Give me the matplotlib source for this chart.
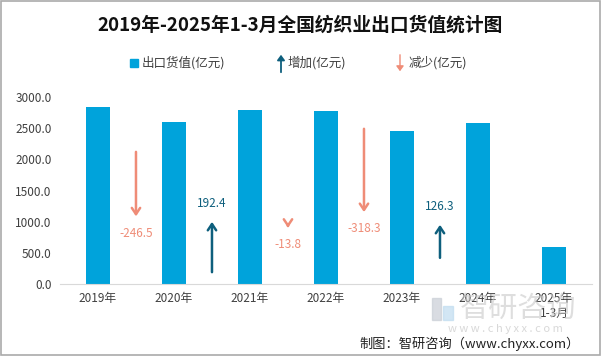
import numpy as np
import matplotlib
matplotlib.use('Agg')
import matplotlib.pyplot as plt
from matplotlib.patches import Rectangle, FancyArrowPatch

plt.rcParams['font.family'] = ['Noto Sans CJK SC', 'DejaVu Sans']

years = ['2019年', '2020年', '2021年', '2022年', '2023年', '2024年', '2025年\n1-3月']
export_value = [2840.0, 2593.5, 2785.9, 2772.1, 2453.8, 2580.1, 595.0]
change = [-246.5, 192.4, -13.8, -318.3, 126.3]
change_labels = ['-246.5', '192.4', '-13.8', '-318.3', '126.3']

# arrow tail heights (layout only)
arrow_tail = [2120, 190, 960, 2490, 420]
arrow_scale = 4.2

bar_color = '#00a3db'
up_color = '#0e5f7d'
down_color = '#ef8c77'
tick_color = '#404040'

fig = plt.figure(figsize=(6.01, 3.56), dpi=100)
ax = fig.add_axes([0.0998, 0.2022, 0.8852, 0.5253])
ax.patch.set_alpha(0)

x = np.arange(len(years))
ax.bar(x, export_value, width=0.32, color=bar_color, zorder=2)

for i, d in enumerate(change):
    xp = i + 0.5
    tail = arrow_tail[i]
    head = tail + d * arrow_scale
    c = up_color if d > 0 else down_color
    ax.annotate('', xy=(xp, head), xytext=(xp, tail),
                arrowprops=dict(arrowstyle='->,head_length=0.45,head_width=0.3',
                                color=c, lw=1.8, shrinkA=0, shrinkB=0))
    if d > 0:
        ty = head + 290
    else:
        ty = head - 270
    ax.text(xp, ty, change_labels[i], ha='center', va='center', fontsize=8.5, color=c)

ax.set_xlim(-0.5, 6.5)
ax.set_ylim(0, 3000)
ax.set_yticks(np.arange(0, 3001, 500))
ax.set_yticklabels(['%.1f' % v for v in np.arange(0, 3001, 500)])
ax.set_xticks(x)
ax.set_xticklabels(years)
ax.tick_params(axis='both', length=0, labelsize=8.5, colors=tick_color)
ax.tick_params(axis='x', pad=6)
ax.tick_params(axis='y', pad=6)
for s in ['top', 'right', 'left']:
    ax.spines[s].set_visible(False)
ax.spines['bottom'].set_color('#d9d9d9')

fig.text(0.499, 0.93, '2019年-2025年1-3月全国纺织业出口货值统计图', ha='center', va='center',
         fontsize=13.5, fontweight='bold', color='#111111')

# legend
ly = 1 - 63 / 356
fig.patches.append(Rectangle((130 / 601, ly - 4.5 / 356), 8 / 601, 8 / 356,
                             transform=fig.transFigure, color=bar_color))
fig.text(142 / 601, ly, '出口货值(亿元)', va='center', fontsize=9, color=tick_color)
fig.patches.append(FancyArrowPatch((281 / 601, ly - 12 / 356), (281 / 601, ly + 11 / 356),
                   transform=fig.transFigure, arrowstyle='-|>,head_length=3,head_width=2.2',
                   color=up_color, lw=1.3))
fig.text(288 / 601, ly, '增加(亿元)', va='center', fontsize=9, color=tick_color)
fig.patches.append(FancyArrowPatch((400 / 601, ly + 11 / 356), (400 / 601, ly - 11 / 356),
                   transform=fig.transFigure, arrowstyle='-|>,head_length=3,head_width=2.2',
                   color=down_color, lw=1.0))
fig.text(409 / 601, ly, '减少(亿元)', va='center', fontsize=9, color=tick_color)

# watermark (logo + text)
fig.patches.append(Rectangle((432 / 601, 1 - 320 / 356), 9 / 601, 22 / 356,
                             transform=fig.transFigure, color='#c9ced6', alpha=0.7, zorder=0))
fig.patches.append(Rectangle((443 / 601, 1 - 320 / 356), 10 / 601, 14 / 356,
                             transform=fig.transFigure, color='#bfdcf0', alpha=0.7, zorder=0))
fig.text(518 / 601, 1 - 309 / 356, '智研咨询', ha='center', va='center', fontsize=21,
         color='#c8c8c8', alpha=0.6, zorder=0)
fig.text(505 / 601, 1 - 329 / 356, 'w w w . c h y x x . c o m', ha='center', va='center',
         fontsize=8, color='#c8c8c8', alpha=0.7, zorder=0)

fig.text(580 / 601, 1 - 344 / 356, '制图：智研咨询（www.chyxx.com）', ha='right', va='center',
         fontsize=9.5, color='#222222')

fig.patches.append(Rectangle((0.001, 0.0015), 0.997, 0.996, transform=fig.transFigure,
                             fill=False, edgecolor='#aaaaaa', lw=1.2))

fig.savefig('out.png', dpi=100)
